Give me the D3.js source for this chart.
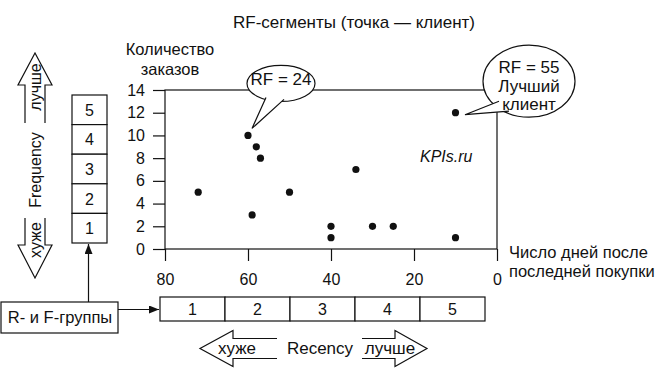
<!DOCTYPE html>
<html>
<head>
<meta charset="utf-8">
<script src="https://cdn.jsdelivr.net/npm/d3@7"></script>
<style>
    body { margin: 0; background: #fff; }
    svg { display: block; }
    text { font-family: "Liberation Sans", Arial, sans-serif; fill: #111; }
</style>
</head>
<body>
<div id="chart"></div>
<script>
// Customers: days since last purchase vs number of orders
const recencyDays = [72, 60, 58, 57, 59, 50, 40, 40, 34, 30, 25, 10, 10];
const orderCounts = [5, 10, 9, 8, 3, 5, 2, 1, 7, 2, 2, 12, 1];
const xTicks = [80, 60, 40, 20, 0];
const yTicks = [0, 2, 4, 6, 8, 10, 12, 14];
const fGroups = [5, 4, 3, 2, 1];
const rGroups = [1, 2, 3, 4, 5];
const calloutIndex = [1, 11];
const calloutText = [["RF = 24"], ["RF = 55", "Лучший", "клиент"]];

const width = 662, height = 368;

const svg = d3.select("#chart").append("svg")
    .attr("width", width)
    .attr("height", height);

const x = d3.scaleLinear().domain([80, 0]).range([165, 497]);
const y = d3.scaleLinear().domain([0, 14]).range([249, 90]);

// title
svg.append("text")
    .attr("x", 354).attr("y", 28)
    .attr("text-anchor", "middle")
    .style("font-size", "17px")
    .text("RF-сегменты (точка — клиент)");

// y title
svg.append("text")
    .attr("text-anchor", "middle")
    .style("font-size", "16.5px")
    .selectAll("tspan")
    .data(["Количество", "заказов"])
    .enter().append("tspan")
    .attr("x", 170)
    .attr("y", (d, i) => 55 + i * 19.5)
    .text(d => d);

// x title
svg.append("text")
    .style("font-size", "16.5px")
    .selectAll("tspan")
    .data(["Число дней после", "последней покупки"])
    .enter().append("tspan")
    .attr("x", 509)
    .attr("y", (d, i) => 258 + i * 19)
    .text(d => d);

// plot frame
svg.append("rect")
    .attr("x", x(80)).attr("y", y(14))
    .attr("width", x(0) - x(80)).attr("height", y(0) - y(14))
    .attr("fill", "none").attr("stroke", "#111").attr("stroke-width", 1.2);

const yAxis = svg.append("g")
    .attr("transform", `translate(${x(80)},0)`)
    .call(d3.axisLeft(y).tickValues(yTicks).tickSize(12).tickPadding(8));

const xAxis = svg.append("g")
    .attr("transform", `translate(0,${y(0)})`)
    .call(d3.axisBottom(x).tickValues(xTicks).tickSize(12).tickPadding(13));

[yAxis, xAxis].forEach(g => {
    g.select(".domain").remove();
    g.selectAll(".tick line").attr("stroke", "#111").attr("stroke-width", 1.2);
    g.selectAll(".tick text")
        .style("font-size", "16px")
        .style("font-family", '"Liberation Sans", Arial, sans-serif')
        .attr("fill", "#111");
});

// watermark
svg.append("text")
    .attr("x", 420).attr("y", 162)
    .style("font-size", "16px")
    .style("font-style", "italic")
    .text("KPIs.ru");

// points
svg.append("g")
    .selectAll("circle")
    .data(recencyDays)
    .enter().append("circle")
    .attr("cx", d => x(d))
    .attr("cy", (d, i) => y(orderCounts[i]))
    .attr("r", 3.6)
    .attr("fill", "#111");

// speech bubbles, placed relative to the point they describe
const bubbleShape = [
    { dx: 33, dy: -52, rx: 34, ry: 18, tip: [4, -7], base: [[-15, 14], [3, 16]], textY: 2, lineH: 18.5 },
    { dx: 73.5, dy: -31.5, rx: 46, ry: 36, tip: [9.5, 2], base: [[-30, 20], [-20, 30]], textY: -8, lineH: 18.5 }
];

calloutIndex.forEach((idx, k) => {
    const px = x(recencyDays[idx]), py = y(orderCounts[idx]);
    const s = bubbleShape[k];
    const cx = px + s.dx, cy = py + s.dy;
    const g = svg.append("g");
    g.append("ellipse")
        .attr("cx", cx).attr("cy", cy)
        .attr("rx", s.rx).attr("ry", s.ry)
        .attr("fill", "#fff").attr("stroke", "#111").attr("stroke-width", 1.2);
    const tail = d3.path();
    tail.moveTo(cx + s.base[0][0], cy + s.base[0][1]);
    tail.lineTo(px + s.tip[0], py + s.tip[1]);
    tail.lineTo(cx + s.base[1][0], cy + s.base[1][1]);
    g.append("path")
        .attr("d", tail.toString())
        .attr("fill", "#fff").attr("stroke", "#111").attr("stroke-width", 1.2);
    g.append("text")
        .attr("text-anchor", "middle")
        .style("font-size", "17px")
        .selectAll("tspan")
        .data(calloutText[k])
        .enter().append("tspan")
        .attr("x", cx)
        .attr("y", (d, i) => cy + s.textY + i * s.lineH)
        .text(d => d);
});

// F groups stack
const fBand = d3.scaleBand().domain(fGroups).range([95, 243]);
const fCells = svg.append("g").selectAll("g")
    .data(fGroups).enter().append("g");
fCells.append("rect")
    .attr("x", 72).attr("y", d => fBand(d))
    .attr("width", 35).attr("height", fBand.bandwidth())
    .attr("fill", "#fff").attr("stroke", "#111").attr("stroke-width", 1.2);
fCells.append("text")
    .attr("x", 89.5).attr("y", d => fBand(d) + fBand.bandwidth() / 2 + 6)
    .attr("text-anchor", "middle")
    .style("font-size", "16px")
    .text(d => d);

// R groups row
const rBand = d3.scaleBand().domain(rGroups).range([160, 485]);
const rCells = svg.append("g").selectAll("g")
    .data(rGroups).enter().append("g");
rCells.append("rect")
    .attr("x", d => rBand(d)).attr("y", 297)
    .attr("width", rBand.bandwidth()).attr("height", 24)
    .attr("fill", "#fff").attr("stroke", "#111").attr("stroke-width", 1.2);
rCells.append("text")
    .attr("x", d => rBand(d) + rBand.bandwidth() / 2).attr("y", 315)
    .attr("text-anchor", "middle")
    .style("font-size", "16px")
    .text(d => d);

// R- и F-группы box with arrows
svg.append("defs").append("marker")
    .attr("id", "head")
    .attr("viewBox", "0 0 10 8")
    .attr("refX", 10).attr("refY", 4)
    .attr("markerWidth", 12).attr("markerHeight", 8)
    .attr("markerUnits", "userSpaceOnUse")
    .attr("orient", "auto")
    .append("path").attr("d", "M0,0L10,4L0,8Z").attr("fill", "#111");

svg.append("line")
    .attr("x1", 88.5).attr("y1", 302).attr("x2", 88.5).attr("y2", 244)
    .attr("stroke", "#111").attr("stroke-width", 1.2)
    .attr("marker-end", "url(#head)");
svg.append("line")
    .attr("x1", 118).attr("y1", 309.5).attr("x2", 159).attr("y2", 309.5)
    .attr("stroke", "#111").attr("stroke-width", 1.2)
    .attr("marker-end", "url(#head)");

svg.append("rect")
    .attr("x", 1).attr("y", 302).attr("width", 117).attr("height", 31)
    .attr("fill", "#fff").attr("stroke", "#111").attr("stroke-width", 1.2);
svg.append("text")
    .attr("x", 60).attr("y", 323)
    .attr("text-anchor", "middle")
    .style("font-size", "16.5px")
    .text("R- и F-группы");

// hollow direction arrows
function hollowArrow(tipX, tipY, dir, headLen, headHalf, shaftHalf, shaftLen) {
    // dir: unit vector pointing toward the tip
    const [ux, uy] = dir, nx = -uy, ny = ux;
    const bx = tipX - ux * headLen, by = tipY - uy * headLen;
    const ex = bx - ux * shaftLen, ey = by - uy * shaftLen;
    const p = d3.path();
    p.moveTo(ex + nx * shaftHalf, ey + ny * shaftHalf);
    p.lineTo(bx + nx * shaftHalf, by + ny * shaftHalf);
    p.lineTo(bx + nx * headHalf, by + ny * headHalf);
    p.lineTo(tipX, tipY);
    p.lineTo(bx - nx * headHalf, by - ny * headHalf);
    p.lineTo(bx - nx * shaftHalf, by - ny * shaftHalf);
    p.lineTo(ex - nx * shaftHalf, ey - ny * shaftHalf);
    svg.append("path")
        .attr("d", p.toString())
        .attr("fill", "none").attr("stroke", "#111").attr("stroke-width", 1.2);
}

hollowArrow(35, 53, [0, -1], 32, 17, 10, 38);
hollowArrow(35, 278, [0, 1], 33, 17, 10, 27);
hollowArrow(200, 348.5, [-1, 0], 33, 18, 10, 44);
hollowArrow(427, 348.5, [1, 0], 32, 18, 10, 33);

const vLabels = [["лучше", 87], ["Frequency", 170], ["хуже", 240]];
svg.append("g").selectAll("text")
    .data(vLabels).enter().append("text")
    .attr("transform", d => `translate(41,${d[1]}) rotate(-90)`)
    .attr("text-anchor", "middle")
    .style("font-size", "16px")
    .text(d => d[0]);

const hLabels = [["хуже", 237], ["Recency", 320], ["лучше", 390]];
svg.append("g").selectAll("text")
    .data(hLabels).enter().append("text")
    .attr("x", d => d[1]).attr("y", 354)
    .attr("text-anchor", "middle")
    .style("font-size", "17px")
    .text(d => d[0]);
</script>
</body>
</html>
